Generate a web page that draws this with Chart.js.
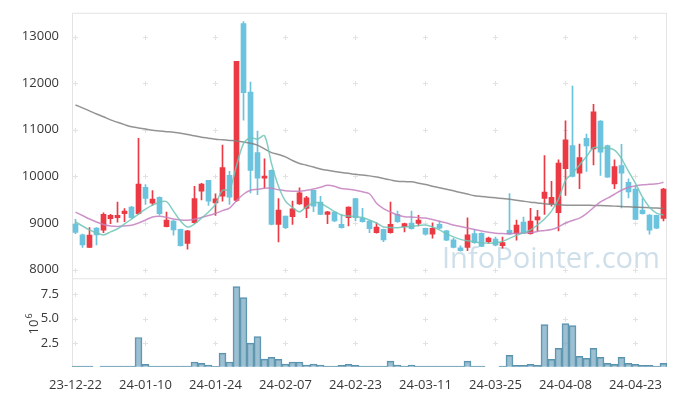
<!DOCTYPE html>
<html>
<head>
<meta charset="utf-8">
<script src="https://cdn.jsdelivr.net/npm/chart.js@4.4.1/dist/chart.umd.min.js"></script>
<style>
  html, body { margin: 0; padding: 0; background: #fff; }
</style>
</head>
<body>
<canvas id="chart" width="677" height="396"></canvas>
<script>
// trading days, one candle each
const dates = [
  '23-12-22','23-12-26','23-12-27','23-12-28','24-01-02','24-01-03','24-01-04','24-01-05','24-01-08','24-01-09',
  '24-01-10','24-01-11','24-01-12','24-01-15','24-01-16','24-01-17','24-01-18','24-01-19','24-01-22','24-01-23',
  '24-01-24','24-01-25','24-01-26','24-01-29','24-01-30','24-01-31','24-02-01','24-02-02','24-02-05','24-02-06',
  '24-02-07','24-02-08','24-02-13','24-02-14','24-02-15','24-02-16','24-02-19','24-02-20','24-02-21','24-02-22',
  '24-02-23','24-02-26','24-02-27','24-02-28','24-02-29','24-03-04','24-03-05','24-03-06','24-03-07','24-03-08',
  '24-03-11','24-03-12','24-03-13','24-03-14','24-03-15','24-03-18','24-03-19','24-03-20','24-03-21','24-03-22',
  '24-03-25','24-03-26','24-03-27','24-03-28','24-03-29','24-04-01','24-04-02','24-04-03','24-04-04','24-04-05',
  '24-04-08','24-04-09','24-04-11','24-04-12','24-04-15','24-04-16','24-04-17','24-04-18','24-04-19','24-04-22',
  '24-04-23','24-04-24','24-04-25','24-04-26','24-04-29'
];

const opens = [
  8970, 8745, 8475, 8890, 8845, 9092, 9113, 9200, 9340, 9200,
  9766, 9426, 9553, 8921, 9043, 8866, 8560, 9006, 9681, 9915,
  9432, 9574, 10021, 9483, 13277, 11809, 10511, 9964, 10128, 8972,
  9149, 9134, 9411, 9312, 9702, 9447, 9185, 9234, 8972, 9113,
  9525, 9100, 9043, 8794, 8866, 8794, 9185, 8921, 9000, 8993,
  8887, 8760, 8972, 8830, 8638, 8468, 8474, 8772, 8780, 8602,
  8653, 8511, 8845, 8772, 9021, 8772, 9064, 9525, 9411, 9220,
  10163, 10660, 10071, 10815, 10589, 11185, 10660, 9836, 10234, 9872,
  9730, 9277, 9170, 9163, 9100
];
const highs = [
  9080, 8760, 8900, 8900, 9220, 9185, 9447, 9310, 9360, 10815,
  9823, 9695, 9560, 9234, 9060, 8870, 8840, 9787, 9850, 9915,
  9624, 10674, 10106, 12470, 13320, 12021, 10972, 10376, 10140, 9525,
  9150, 9468, 9752, 9574, 9702, 9574, 9250, 9240, 9170, 9345,
  9530, 9312, 9050, 9006, 8870, 9447, 9255, 9000, 9255, 9163,
  8890, 9006, 9043, 8840, 8674, 8511, 9113, 8851, 8790, 8700,
  8700, 8700, 9632, 9064, 9128, 9312, 9270, 10447, 9894, 10355,
  11191, 11936, 10695, 10908, 11546, 11200, 10670, 10355, 10688, 9950,
  9800, 9525, 9180, 9170, 9745
];
const lows = [
  8770, 8475, 8470, 8530, 8795, 8985, 9020, 9030, 9100, 9190,
  9397, 9383, 9170, 8915, 8740, 8505, 8440, 8990, 9496, 9376,
  9163, 9468, 9397, 9460, 11206, 9645, 9610, 9752, 8960, 8596,
  8880, 8972, 9400, 9113, 9241, 9180, 8985, 9030, 8890, 8936,
  9050, 9020, 8794, 8780, 8600, 8780, 9010, 8809, 8870, 8936,
  8740, 8674, 8880, 8620, 8465, 8395, 8404, 8560, 8490, 8560,
  8510, 8460, 8750, 8632, 8770, 8760, 8830, 9185, 9362, 8830,
  9589, 9990, 9738, 10106, 10248, 10021, 9980, 9738, 9326, 9539,
  9070, 9190, 8760, 8880, 9043
];
const closes = [
  8800, 8530, 8740, 8745, 9185, 9164, 9164, 9255, 9113, 9836,
  9525, 9511, 9198, 9064, 8851, 8511, 8830, 9525, 9836, 9468,
  9517, 10191, 9553, 12468, 11794, 10128, 9964, 10007, 8972, 9277,
  8900, 9304, 9645, 9538, 9362, 9185, 9241, 9043, 8900, 9340,
  9113, 9030, 8879, 8915, 8638, 8972, 9028, 8985, 8879, 9064,
  8760, 8887, 8887, 8632, 8474, 8404, 8745, 8580, 8500, 8674,
  8526, 8580, 8760, 8957, 8780, 9043, 9134, 9666, 9553, 10283,
  10787, 10000, 10404, 10653, 11383, 10517, 9985, 10213, 10071, 9666,
  9079, 9198, 8845, 8887, 9730
];

// moving averages
const ma5 = [
  9021, 8936, 8851, 8787, 8745, 8809, 8872, 8979, 9085, 9191,
  9298, 9383, 9447, 9457, 9255, 9043, 8915, 8979, 9106, 9234,
  9404, 9702, 9713, 10234, 10702, 10830, 10798, 10872, 10277, 9787,
  9468, 9334, 9240, 9347, 9432, 9425, 9340, 9245, 9170, 9149,
  9138, 9117, 9064, 9000, 8915, 8904, 8900, 8915, 8926, 8947,
  8957, 8915, 8851, 8766, 8702, 8649, 8617, 8596, 8574, 8568,
  8574, 8606, 8670, 8734, 8787, 8851, 8957, 9085, 9255, 9511,
  9915, 10064, 10245, 10426, 10617, 10617, 10606, 10564, 10383, 10106,
  9851, 9553, 9340, 9213, 9170
];
const ma20 = [
  9234, 9160, 9085, 9021, 8968, 8936, 8926, 8936, 8951, 9000,
  9064, 9128, 9143, 9121, 9085, 9064, 9057, 9079, 9117, 9160,
  9202, 9266, 9319, 9479, 9617, 9702, 9723, 9745, 9745, 9713,
  9691, 9681, 9681, 9702, 9730, 9766, 9809, 9787, 9738, 9723,
  9702, 9670, 9628, 9425, 9309, 9234, 9170, 9134, 9128, 9117,
  9106, 9074, 9036, 9000, 8957, 8926, 8894, 8862, 8830, 8802,
  8781, 8772, 8772, 8777, 8787, 8794, 8819, 8840, 8862, 8915,
  9000, 9053, 9106, 9202, 9330, 9453, 9532, 9617, 9702, 9766,
  9798, 9819, 9830, 9840, 9872
];
const maLong = [
  11532, 11470, 11405, 11340, 11280, 11213, 11160, 11110, 11064, 11040,
  11015, 10989, 10975, 10960, 10945, 10926, 10900, 10870, 10840, 10820,
  10798, 10785, 10772, 10760, 10740, 10713, 10670, 10590, 10511, 10470,
  10420, 10340, 10277, 10240, 10200, 10160, 10130, 10106, 10085, 10065,
  10045, 10030, 10011, 9985, 9955, 9925, 9894, 9888, 9883, 9855,
  9825, 9790, 9757, 9723, 9690, 9655, 9620, 9585, 9570, 9555,
  9540, 9525, 9511, 9490, 9468, 9447, 9430, 9411, 9400, 9390,
  9383, 9382, 9380, 9379, 9378, 9377, 9370, 9362, 9355, 9347,
  9340, 9333, 9327, 9320, 9313
];

// volume in millions of shares
const volumeM = [
  0.22, 0.22, 0.22, 0.10, 0.22, 0.22, 0.22, 0.22, 0.22, 3.10,
  0.40, 0.22, 0.22, 0.22, 0.22, 0.22, 0.22, 0.63, 0.50, 0.33,
  0.20, 1.53, 0.63, 8.23, 7.13, 2.53, 3.20, 0.93, 1.10, 0.90,
  0.43, 0.63, 0.63, 0.33, 0.43, 0.33, 0.23, 0.23, 0.30, 0.40,
  0.30, 0.23, 0.23, 0.23, 0.23, 0.73, 0.33, 0.23, 0.33, 0.23,
  0.23, 0.23, 0.23, 0.23, 0.23, 0.23, 0.73, 0.23, 0.23, 0.10,
  0.10, 0.23, 1.30, 0.30, 0.30, 0.40, 0.30, 4.40, 0.90, 2.00,
  4.50, 4.30, 1.20, 1.00, 2.00, 1.10, 0.50, 0.40, 1.10, 0.50,
  0.40, 0.30, 0.30, 0.23, 0.50
];

const priceTicks = [8000, 9000, 10000, 11000, 12000, 13000];
const volTicks = [2.5, 5.0, 7.5];

const upColor = '#ec3a44';
const downColor = '#6cc3dd';
const candleColors = closes.map((c, i) => c >= opens[i] ? upColor : downColor);
const tickFont = { family: 'Open Sans', size: 13 };
const tickColor = '#383838';

const decorations = {
  id: 'decorations',
  beforeDatasetsDraw(chart) {
    const { ctx, chartArea: a, scales } = chart;
    const yP = scales.y, yV = scales.yVol, x = scales.x;
    ctx.save();
    // watermark
    ctx.font = '30px "Open Sans"';
    ctx.fillStyle = 'rgba(165,197,216,0.55)';
    ctx.textAlign = 'left';
    ctx.textBaseline = 'alphabetic';
    ctx.fillText('InfoPointer.com', 442, 268, 218);
    // small crosses where grid lines would meet
    ctx.strokeStyle = '#e2e2e2';
    ctx.lineWidth = 1;
    [yP, yV].forEach(ys => {
      ys.ticks.forEach(yt => {
        const py = Math.round(ys.getPixelForValue(yt.value)) + 0.5;
        x.ticks.forEach(xt => {
          const px = Math.floor(x.getPixelForValue(xt.value)) + 0.5;
          ctx.beginPath();
          ctx.moveTo(px - 2.5, py); ctx.lineTo(px + 2.5, py);
          ctx.moveTo(px, py - 2.5); ctx.lineTo(px, py + 2.5);
          ctx.stroke();
        });
      });
    });
    // panel borders
    ctx.strokeStyle = '#e4e4e4';
    ctx.strokeRect(a.left + 0.5, yP.top + 0.5, a.right - a.left - 1, yP.bottom - yP.top);
    ctx.beginPath();
    ctx.moveTo(a.left + 0.5, yV.top); ctx.lineTo(a.left + 0.5, yV.bottom);
    ctx.moveTo(a.right - 0.5, yV.top); ctx.lineTo(a.right - 0.5, yV.bottom);
    ctx.stroke();
    ctx.restore();
  },
  afterDraw(chart) {
    // axis title 10^6 for the volume panel
    const { ctx, scales } = chart;
    const yV = scales.yVol;
    const cy = (yV.top + yV.bottom) / 2 + 12;
    ctx.save();
    ctx.translate(38, cy);
    ctx.rotate(-Math.PI / 2);
    ctx.fillStyle = tickColor;
    ctx.textBaseline = 'alphabetic';
    ctx.textAlign = 'left';
    ctx.font = '13px "Open Sans"';
    ctx.fillText('10', 0, 0);
    const w = ctx.measureText('10').width;
    ctx.font = '9px "Open Sans"';
    ctx.fillText('6', w + 1, -6);
    ctx.restore();
  }
};

new Chart(document.getElementById('chart'), {
  type: 'bar',
  data: {
    labels: dates,
    datasets: [
      { type: 'line', label: 'MA5', data: ma5, yAxisID: 'y', borderColor: 'rgba(110,196,182,0.85)',
        borderWidth: 1.5, pointRadius: 0, tension: 0.3, order: 0 },
      { type: 'line', label: 'MA20', data: ma20, yAxisID: 'y', borderColor: 'rgba(196,128,192,0.85)',
        borderWidth: 1.5, pointRadius: 0, tension: 0.3, order: 0 },
      { type: 'line', label: 'MA long', data: maLong, yAxisID: 'y', borderColor: 'rgba(128,128,128,0.85)',
        borderWidth: 1.5, pointRadius: 0, tension: 0.3, order: 0 },
      { label: 'body', data: opens.map((o, i) => [o, closes[i]]), yAxisID: 'y',
        backgroundColor: candleColors, barThickness: 5, grouped: false, order: 2 },
      { label: 'wick', data: lows.map((l, i) => [l, highs[i]]), yAxisID: 'y',
        backgroundColor: candleColors, barThickness: 1, grouped: false, order: 3 },
      { label: 'volume', data: volumeM, yAxisID: 'yVol',
        backgroundColor: 'rgba(118,167,192,0.72)', borderColor: '#5a92ad', borderWidth: 1,
        categoryPercentage: 1, barPercentage: 1, grouped: false, order: 4 }
    ]
  },
  options: {
    responsive: false,
    animation: false,
    devicePixelRatio: 1,
    layout: { padding: { top: 10, right: 10, left: 0, bottom: 0 } },
    plugins: { legend: { display: false }, tooltip: { enabled: false } },
    scales: {
      x: {
        type: 'category', offset: true,
        grid: { display: false }, border: { display: false },
        afterBuildTicks: s => { s.ticks = s.ticks.filter(t => t.value % 10 === 0); },
        ticks: { autoSkip: false, maxRotation: 0, padding: 3, color: tickColor, font: tickFont },
        afterFit: s => { s.height = 29.3; }
      },
      // volume first so that the stacked layout puts it below the price panel
      yVol: {
        type: 'linear', position: 'left', stack: 'panels', stackWeight: 1,
        min: 0.16, max: 9.08,
        grid: { display: false }, border: { display: false },
        afterBuildTicks: s => { s.ticks = volTicks.map(v => ({ value: v })); },
        ticks: { padding: 5, color: tickColor, font: tickFont, callback: v => v.toFixed(1) },
        afterFit: s => { s.width = 72; }
      },
      y: {
        type: 'linear', position: 'left', stack: 'panels', stackWeight: 3,
        min: 7815, max: 13510,
        grid: { display: false }, border: { display: false },
        afterBuildTicks: s => { s.ticks = priceTicks.map(v => ({ value: v })); },
        ticks: { padding: 5, color: tickColor, font: tickFont, callback: v => String(v) },
        afterFit: s => { s.width = 72; }
      }
    }
  },
  plugins: [decorations]
});
</script>
</body>
</html>
